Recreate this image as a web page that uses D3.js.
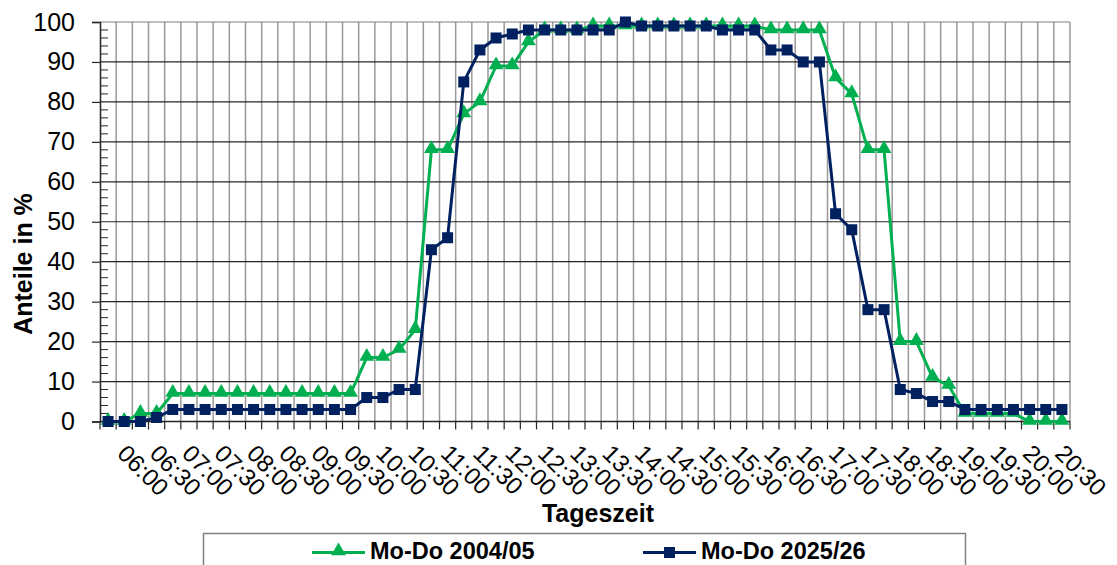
<!DOCTYPE html>
<html>
<head>
<meta charset="utf-8">
<script src="https://d3js.org/d3.v7.min.js"></script>
<style>
  body { margin: 0; background: #fff; }
  svg { display: block; font-family: "Liberation Sans", Arial, sans-serif; }
</style>
</head>
<body>
<svg class="chart" width="1117" height="565"></svg>
<script>
// categories: 15-minute slots
let times = ["06:00","06:15","06:30","06:45","07:00","07:15","07:30","07:45",
    "08:00","08:15","08:30","08:45","09:00","09:15","09:30","09:45",
    "10:00","10:15","10:30","10:45","11:00","11:15","11:30","11:45",
    "12:00","12:15","12:30","12:45","13:00","13:15","13:30","13:45",
    "14:00","14:15","14:30","14:45","15:00","15:15","15:30","15:45",
    "16:00","16:15","16:30","16:45","17:00","17:15","17:30","17:45",
    "18:00","18:15","18:30","18:45","19:00","19:15","19:30","19:45",
    "20:00","20:15","20:30","20:45"];

// only every second slot gets a label
let tickLabels = ["06:00","06:30","07:00","07:30","08:00","08:30","09:00","09:30",
    "10:00","10:30","11:00","11:30","12:00","12:30","13:00","13:30","14:00","14:30",
    "15:00","15:30","16:00","16:30","17:00","17:30","18:00","18:30","19:00","19:30",
    "20:00","20:30"];

let yTicks = [0, 10, 20, 30, 40, 50, 60, 70, 80, 90, 100];

let seriesNames = ["Mo-Do 2004/05", "Mo-Do 2025/26"];

let vals2004 = [0, 0, 2, 2, 7, 7, 7, 7, 7, 7, 7, 7, 7, 7, 7, 7,
    16, 16, 18, 23, 68, 68, 77, 80, 89, 89, 95, 98, 98, 98, 99, 99,
    99, 99, 99, 99, 99, 99, 99, 99, 99, 98, 98, 98, 98, 86, 82, 68,
    68, 20, 20, 11, 9, 2, 2, 2, 2, 0, 0, 0];

let vals2025 = [0, 0, 0, 1, 3, 3, 3, 3, 3, 3, 3, 3, 3, 3, 3, 3,
    6, 6, 8, 8, 43, 46, 85, 93, 96, 97, 98, 98, 98, 98, 98, 98,
    100, 99, 99, 99, 99, 99, 98, 98, 98, 93, 93, 90, 90, 52, 48, 28,
    28, 8, 7, 5, 5, 3, 3, 3, 3, 3, 3, 3];

let colGreen = "#00b050",
    colNavy = "#002060";

let svg = d3.select("svg.chart"),
    plot = {left: 100, right: 1070, top: 22, bottom: 421.5};

let xScale = d3.scaleBand()
    .domain(times)
    .range([plot.left, plot.right])
    .padding(0);
let yScale = d3.scaleLinear()
    .domain([0, 100])
    .range([plot.bottom, plot.top]);

let cx = d => xScale(d) + xScale.bandwidth() / 2;

// vertical grid (category boundaries)
let bounds = times.map(t => xScale(t)).concat([plot.right]);
svg.append("g")
    .selectAll("line")
    .data(bounds.slice(1))
    .join("line")
    .attr("x1", d => d).attr("x2", d => d)
    .attr("y1", plot.top).attr("y2", plot.bottom)
    .attr("stroke", "#999")
    .attr("stroke-width", 1.5);

// horizontal grid
svg.append("g")
    .selectAll("line")
    .data(yTicks.slice(1))
    .join("line")
    .attr("x1", plot.left).attr("x2", plot.right)
    .attr("y1", d => yScale(d)).attr("y2", d => yScale(d))
    .attr("stroke", d => d === 100 ? "#808080" : "#262626")
    .attr("stroke-width", 1.2);

// y axis: major ticks outside, minor ticks inside
let yAxis = svg.append("g")
    .attr("transform", "translate(" + plot.left + ",0)")
    .call(d3.axisLeft(yScale).tickValues(yTicks).tickSize(8).tickPadding(17));
yAxis.select(".domain").attr("stroke", "#262626").attr("stroke-width", 1.5);
yAxis.selectAll(".tick line").attr("stroke", "#262626").attr("stroke-width", 1.2);
yAxis.selectAll("text")
    .attr("font-size", "25px")
    .attr("fill", "#000")
    .attr("font-family", "Liberation Sans, Arial, sans-serif");

let minor = d3.range(0, 101, 2).filter(v => v % 10 !== 0);
svg.append("g")
    .selectAll("line")
    .data(minor)
    .join("line")
    .attr("x1", plot.left).attr("x2", plot.left + 8)
    .attr("y1", d => yScale(d)).attr("y2", d => yScale(d))
    .attr("stroke", "#262626")
    .attr("stroke-width", 1);

// x axis
svg.append("line")
    .attr("x1", plot.left).attr("x2", plot.right)
    .attr("y1", plot.bottom).attr("y2", plot.bottom)
    .attr("stroke", "#262626")
    .attr("stroke-width", 1.5);
svg.append("g")
    .selectAll("line")
    .data(bounds)
    .join("line")
    .attr("x1", d => d).attr("x2", d => d)
    .attr("y1", plot.bottom).attr("y2", plot.bottom + 8)
    .attr("stroke", "#262626")
    .attr("stroke-width", 1.2);

svg.append("g")
    .selectAll("text")
    .data(tickLabels)
    .join("text")
    .attr("transform", d => "translate(" + (cx(d) + 8) + "," + 455 + ") rotate(45)")
    .attr("font-size", "24px")
    .attr("fill", "#000")
    .text(d => d);

// axis titles
svg.append("text")
    .attr("x", 598)
    .attr("y", 522)
    .attr("text-anchor", "middle")
    .attr("font-size", "25px")
    .attr("font-weight", "bold")
    .text("Tageszeit");
svg.append("text")
    .attr("transform", "translate(32,264) rotate(-90)")
    .attr("text-anchor", "middle")
    .attr("font-size", "25px")
    .attr("font-weight", "bold")
    .text("Anteile in %");

// series
let line = d3.line()
    .x(d => cx(d.t))
    .y(d => yScale(d.v));

let data2004 = times.map((t, i) => ({t: t, v: vals2004[i]}));
let data2025 = times.map((t, i) => ({t: t, v: vals2025[i]}));

let tri = d3.symbol().type(d3.symbolTriangle).size(95);

svg.append("path")
    .datum(data2004)
    .attr("fill", "none")
    .attr("stroke", colGreen)
    .attr("stroke-width", 3)
    .attr("d", line);
svg.append("g")
    .selectAll("path")
    .data(data2004)
    .join("path")
    .attr("transform", d => "translate(" + cx(d.t) + "," + (yScale(d.v) - 1) + ")")
    .attr("d", tri)
    .attr("fill", colGreen);

svg.append("path")
    .datum(data2025)
    .attr("fill", "none")
    .attr("stroke", colNavy)
    .attr("stroke-width", 3)
    .attr("d", line);
svg.append("g")
    .selectAll("rect")
    .data(data2025)
    .join("rect")
    .attr("x", d => cx(d.t) - 5.5)
    .attr("y", d => yScale(d.v) - 5.5)
    .attr("width", 11)
    .attr("height", 11)
    .attr("fill", colNavy);

// legend
let legend = svg.append("g");
legend.append("rect")
    .attr("x", 203.5).attr("y", 533.5)
    .attr("width", 762).attr("height", 50)
    .attr("fill", "#fff")
    .attr("stroke", "#808080")
    .attr("stroke-width", 1.5);

let legendItems = [
    {name: seriesNames[0], color: colGreen, x: 312, shape: "tri"},
    {name: seriesNames[1], color: colNavy, x: 643, shape: "sq"}
];
legendItems.forEach(it => {
    legend.append("line")
        .attr("x1", it.x).attr("x2", it.x + 53)
        .attr("y1", 552.5).attr("y2", 552.5)
        .attr("stroke", it.color)
        .attr("stroke-width", 3);
    if (it.shape === "tri") {
        legend.append("path")
            .attr("transform", "translate(" + (it.x + 26.5) + ",551)")
            .attr("d", tri)
            .attr("fill", it.color);
    } else {
        legend.append("rect")
            .attr("x", it.x + 21).attr("y", 547)
            .attr("width", 11).attr("height", 11)
            .attr("fill", it.color);
    }
    legend.append("text")
        .attr("x", it.x + 58)
        .attr("y", 559)
        .attr("font-size", "23.5px")
        .attr("font-weight", "bold")
        .text(it.name);
});
</script>
</body>
</html>
